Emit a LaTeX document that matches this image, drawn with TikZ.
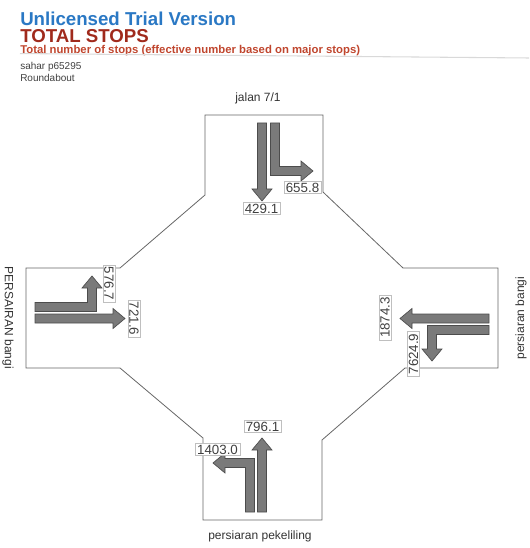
\documentclass[tikz,border=0pt]{standalone}
\usepackage{fontspec}
\setmainfont{Liberation Sans}
\usepackage{tikz}
\usetikzlibrary{positioning}
\definecolor{titolocol}{HTML}{2A78C4}
\definecolor{rossocol}{HTML}{A02A1C}
\definecolor{sottocol}{HTML}{C0462E}
\tikzset{
	% contorno della rotatoria
	strada/.style={draw=black!60, line width=0.6pt, line join=miter},
	% freccia di svolta (poligono grigio)
	freccia/.style={draw=black!70, fill=black!52, line width=0.5pt, line join=miter},
	% valore numerico sulla freccia
	valore/.style={draw=black!25, fill=white, inner xsep=1.5pt, inner ysep=1pt,
	               text=black!75, font=\fontsize{10}{12}\selectfont},
	% nome del ramo
	ramo/.style={font=\fontsize{9}{11}\selectfont, text=black!80},
}

\begin{document}
\begin{tikzpicture}[x=0.75pt, y=-0.75pt]
    \useasboundingbox (0,0) rectangle (529,548);

    % ---------------- intestazione ----------------
    \node[anchor=west, inner sep=0pt, text=titolocol, font=\fontsize{14}{16}\selectfont\bfseries] (titolo) at (20,19) {Unlicensed Trial Version};
    \node[anchor=west, inner sep=0pt, text=rossocol, font=\fontsize{14}{16}\selectfont\bfseries] (totale) at (20,36) {TOTAL STOPS};
    \node[anchor=west, inner sep=0pt, text=sottocol, font=\fontsize{8.5}{10}\selectfont\bfseries] (sottotitolo) at (20,51) {Total number of stops (effective number based on major stops)};
    \draw[black!15, line width=0.8pt] (sottotitolo.south west) ++(0,-3) coordinate (riga) -- (529,58);
    \node[anchor=west, inner sep=0pt, text=black!75, font=\fontsize{7.5}{9}\selectfont] (sahar) at (20,67) {sahar p65295};
    \node[anchor=west, inner sep=0pt, text=black!75, font=\fontsize{7.5}{9}\selectfont] (tipo) at (20,78) {Roundabout};

    % ---------------- contorno ----------------
    \draw[strada] (205,115) -- (323,115) -- (323,192) -- (403,268) -- (498,268) -- (498,368)
        -- (405,368) -- (322,440) -- (322,520) -- (203,520) -- (203,438) -- (120,368)
        -- (26,368) -- (26,268) -- (120,268) -- (205,195) -- cycle;

    % ---------------- nomi dei rami ----------------
    \node[ramo] (nord) at (258,98) {jalan 7/1};
    \node[ramo] (sud) at (260,536) {persiaran pekeliling};
    \node[ramo, rotate=-90] (ovest) at (8,318) {PERSAIRAN bangi};
    \node[ramo, rotate=90] (est) at (521,318) {persiaran bangi};

    % ---------------- ramo nord ----------------
    \draw[freccia] (257.5,123) -- (266.5,123) -- (266.5,189) -- (272,189) -- (262,201) -- (252,189) -- (257.5,189) -- cycle;
    \draw[freccia] (270.5,123) -- (279.5,123) -- (279.5,166.5) -- (301,166.5) -- (301,161) -- (313,171)
        -- (301,181) -- (301,175.5) -- (270.5,175.5) -- cycle;
    \node[valore] (n1) at (261.5,208.5) {429.1};
    \node[valore] (n2) at (302.5,187.5) {655.8};

    % ---------------- ramo ovest ----------------
    \draw[freccia] (35,314) -- (113,314) -- (113,308.5) -- (125,318.5) -- (113,328.5) -- (113,323) -- (35,323) -- cycle;
    \draw[freccia] (35,302.5) -- (87.5,302.5) -- (87.5,288) -- (82,288) -- (92,276) -- (102,288)
        -- (96.5,288) -- (96.5,311.5) -- (35,311.5) -- cycle;
    \node[valore, rotate=-90] (o1) at (109,283.5) {576.7};
    \node[valore, rotate=-90] (o2) at (134,318.5) {721.6};

    % ---------------- ramo est ----------------
    \draw[freccia] (489,314) -- (412,314) -- (412,308.5) -- (400,318.5) -- (412,328.5) -- (412,323) -- (489,323) -- cycle;
    \draw[freccia] (489,325.5) -- (427.5,325.5) -- (427.5,349) -- (422,349) -- (432,361) -- (442,349)
        -- (436.5,349) -- (436.5,334.5) -- (489,334.5) -- cycle;
    \node[valore, rotate=90] (e1) at (385,317.5) {1874.3};
    \node[valore, rotate=90] (e2) at (413.5,354) {7624.9};

    % ---------------- ramo sud ----------------
    \draw[freccia] (257.5,512) -- (266.5,512) -- (266.5,450) -- (272,450) -- (262,438) -- (252,450) -- (257.5,450) -- cycle;
    \draw[freccia] (245.5,512) -- (254.5,512) -- (254.5,458.5) -- (225,458.5) -- (225,453) -- (213,463)
        -- (225,473) -- (225,467.5) -- (245.5,467.5) -- cycle;
    \node[valore] (s1) at (262.5,426.5) {796.1};
    \node[valore] (s2) at (217.5,449.5) {1403.0};
  \end{tikzpicture}
\end{document}
